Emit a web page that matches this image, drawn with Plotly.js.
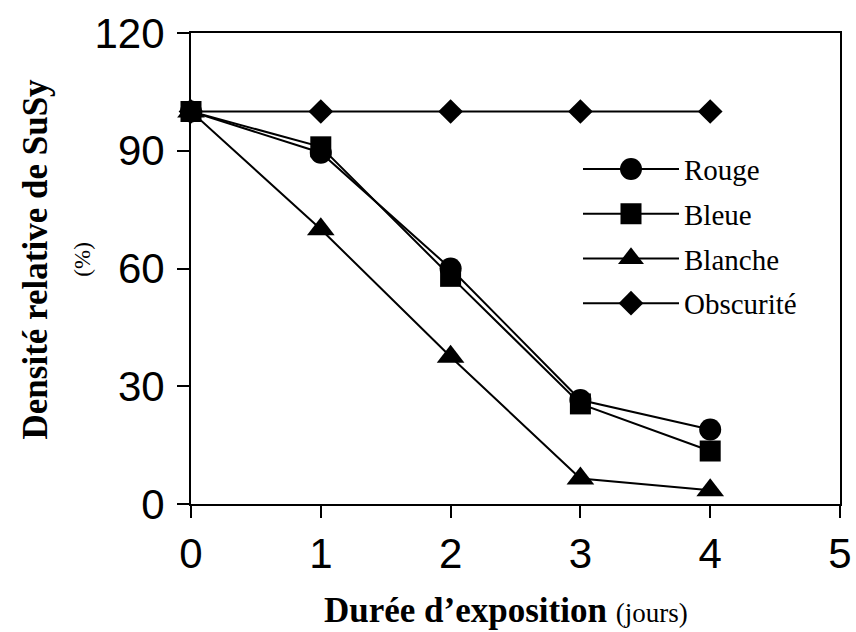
<!DOCTYPE html>
<html>
<head>
<meta charset="utf-8">
<script src="https://cdn.plot.ly/plotly-3.0.1.min.js"></script>
<style>html,body{margin:0;padding:0;background:#fff;}#chart{width:856px;height:632px;}</style>
</head>
<body>
<div id="chart"></div>
<script>
const days = [0, 1, 2, 3, 4];
const rouge = [100, 89.5, 60, 26.5, 19];
const bleue = [100, 91, 58, 25.5, 13.5];
const blanche = [100, 70, 37.5, 6.5, 3.5];
const obscurite = [100, 100, 100, 100, 100];
const seriesNames = ['Rouge', 'Bleue', 'Blanche', 'Obscurité'];
const xTicks = [0, 1, 2, 3, 4, 5];
const yTicks = [0, 30, 60, 90, 120];

const symbols = ['circle', 'square', 'triangle-up', 'diamond'];
const sizes = [22, 21, 24, 19];
const seriesValues = [rouge, bleue, blanche, obscurite];
// draw order: Bleue on top of the others
const drawOrder = [0, 2, 3, 1];

const traces = drawOrder.map(i => ({
  x: days,
  y: seriesValues[i],
  name: seriesNames[i],
  legendgroup: 'g' + i,
  legendrank: i + 1,
  type: 'scatter',
  mode: 'lines+markers',
  line: {color: '#000', width: 2},
  marker: {symbol: symbols[i], size: sizes[i], color: '#000'},
  cliponaxis: false
}));

const layout = {
  width: 856, height: 632,
  margin: {l: 191, r: 16, t: 33, b: 128},
  paper_bgcolor: '#fff', plot_bgcolor: '#fff',
  showlegend: true,
  legend: {
    x: 0.5963, y: 0.765, xanchor: 'left', yanchor: 'top',
    font: {family: 'Liberation Serif, Times New Roman, serif', size: 29, color: '#000'},
    traceorder: 'grouped', tracegroupgap: 4,
    itemwidth: 96, bgcolor: 'rgba(0,0,0,0)'
  },
  xaxis: {
    range: [0, 5], tickvals: xTicks, ticktext: xTicks.map(String),
    showline: true, mirror: true, linecolor: '#000', linewidth: 2,
    ticks: 'outside', ticklen: 12, tickwidth: 2, tickcolor: '#000',
    showgrid: false, zeroline: false,
    tickfont: {family: 'Liberation Sans, Arial, sans-serif', size: 42, color: '#000'}
  },
  yaxis: {
    range: [0, 120], tickvals: yTicks, ticktext: yTicks.map(String),
    showline: true, mirror: true, linecolor: '#000', linewidth: 2,
    ticks: 'outside', ticklen: 12, tickwidth: 2, tickcolor: '#000',
    ticklabelstandoff: 4,
    showgrid: false, zeroline: false,
    tickfont: {family: 'Liberation Sans, Arial, sans-serif', size: 42, color: '#000'}
  },
  annotations: [
    {
      xref: 'paper', yref: 'paper', x: 0.486, y: -0.227, xanchor: 'center', yanchor: 'middle',
      showarrow: false,
      text: '<b>Durée d’exposition</b> <span style="font-size:27px">(jours)</span>',
      font: {family: 'Liberation Serif, Times New Roman, serif', size: 35, color: '#000'}
    },
    {
      xref: 'paper', yref: 'paper', x: -0.209, y: 0.52, xanchor: 'center', yanchor: 'middle',
      showarrow: false, textangle: -90,
      text: '<b><span style="font-size:35px">Densité relative de SuSy</span></b><br><span style="font-size:23px">(%)</span>',
      font: {family: 'Liberation Serif, Times New Roman, serif', size: 33, color: '#000'}
    }
  ]
};

Plotly.newPlot('chart', traces, layout, {displayModeBar: false, staticPlot: true}).then(gd => {
  // legend symbols are capped at 16px by Plotly; enlarge them to match the plotted markers
  gd.querySelectorAll('.legend .traces').forEach(item => {
    const label = item.querySelector('.legendtext');
    const idx = seriesNames.indexOf(label ? label.textContent : '');
    if (idx < 0) return;
    const s = Math.min(sizes[idx], 22.5) / 16;
    item.querySelectorAll('.legendpoints path.scatterpts').forEach(p => {
      const t = p.getAttribute('transform') || '';
      p.setAttribute('transform', t + ' scale(' + s.toFixed(3) + ')');
    });
  });
});
</script>
</body>
</html>
